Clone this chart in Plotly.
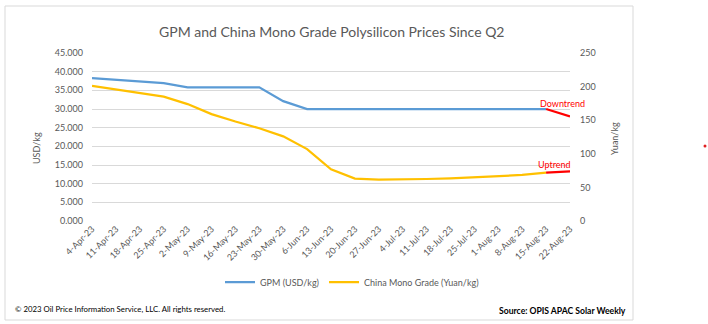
import plotly.graph_objects as go

# Weekly assessment dates
dates = ["4-Apr-23", "11-Apr-23", "18-Apr-23", "25-Apr-23", "2-May-23", "9-May-23",
         "16-May-23", "23-May-23", "30-May-23", "6-Jun-23", "13-Jun-23", "20-Jun-23",
         "27-Jun-23", "4-Jul-23", "11-Jul-23", "18-Jul-23", "25-Jul-23", "1-Aug-23",
         "8-Aug-23", "15-Aug-23", "22-Aug-23"]

# Global Polysilicon Marker, USD/kg
gpm_usd = [38.3, 37.8, 37.3, 36.9, 35.8, 35.8, 35.8, 35.8, 32.1, 30.0, 30.0, 30.0,
           30.0, 30.0, 30.0, 30.0, 30.0, 30.0, 30.0, 30.0, 28.0]

# China mono grade, Yuan/kg
china_mono_yuan = [201, 196, 190, 185, 174, 159, 148, 138, 126, 107, 77, 63,
                   61.5, 61.5, 62.5, 63.5, 65.5, 67, 68.5, 72, 74]

W, H = 708, 324
L, R, T, B = 92, 570, 53, 221   # plot area in pixels

def px(x):
    return (x - L) / (R - L)

def py(y):
    return (B - y) / (B - T)

FONT = "Lato"
GREY = "#595959"
BLUE = "#5B9BD5"
GOLD = "#FFC000"
RED = "#FF0000"

fig = go.Figure()

fig.add_trace(go.Scatter(x=dates[:-1], y=gpm_usd[:-1], mode="lines", name="GPM (USD/kg)",
                         line=dict(color=BLUE, width=2.25), yaxis="y"))
fig.add_trace(go.Scatter(x=dates[:-1], y=china_mono_yuan[:-1], mode="lines",
                         name="China Mono Grade (Yuan/kg)",
                         line=dict(color=GOLD, width=2.25), yaxis="y2"))
# latest week highlighted as trend segments
fig.add_trace(go.Scatter(x=dates[-2:], y=gpm_usd[-2:], mode="lines", showlegend=False,
                         line=dict(color=RED, width=2.25), yaxis="y"))
fig.add_trace(go.Scatter(x=dates[-2:], y=china_mono_yuan[-2:], mode="lines", showlegend=False,
                         line=dict(color=RED, width=2.25), yaxis="y2"))

fig.update_layout(
    width=W, height=H,
    margin=dict(l=L, r=W - R, t=T, b=H - B, pad=0),
    paper_bgcolor="white", plot_bgcolor="white",
    font=dict(family=FONT, size=9, color=GREY),
    showlegend=True,
    legend=dict(orientation="h", x=px(220), y=py(282), xanchor="left", yanchor="middle",
                font=dict(family=FONT, size=9, color=GREY), itemwidth=30,
                tracegroupgap=0, bgcolor="rgba(0,0,0,0)"),
    xaxis=dict(type="category", categoryorder="array", categoryarray=dates,
               range=[0, len(dates) - 1], tickangle=-45, showgrid=False,
               showline=False, zeroline=False, ticks="",
               tickfont=dict(family=FONT, size=9, color=GREY)),
    yaxis=dict(range=[0, 45], dtick=5, tickformat=".3f", showgrid=True,
               gridcolor="#D9D9D9", gridwidth=1, zeroline=False, showline=False,
               ticks="", ticklabelstandoff=8,
               tickfont=dict(family=FONT, size=9, color=GREY)),
    yaxis2=dict(range=[0, 250], dtick=50, overlaying="y", side="right", showgrid=False,
                zeroline=False, showline=False, ticks="", ticklabelstandoff=9,
                tickfont=dict(family=FONT, size=9, color=GREY)),
)

# chart frame
fig.add_shape(type="rect", xref="paper", yref="paper",
              x0=px(5), x1=px(633), y0=py(320), y1=py(6),
              line=dict(color="#D9D9D9", width=1), layer="below")
# stray marker to the right of the chart
fig.add_shape(type="circle", xref="paper", yref="paper",
              x0=px(703.5), x1=px(706.5), y0=py(147.5), y1=py(144.5),
              line=dict(color="#E02020", width=0), fillcolor="#E02020")

ann = [
    dict(text="GPM and China Mono Grade Polysilicon Prices Since Q2", x=px(331), y=py(31),
         font=dict(family=FONT, size=14, color=GREY)),
    dict(text="USD/kg", x=px(36), y=py(148), textangle=-90,
         font=dict(family=FONT, size=9, color=GREY)),
    dict(text="Yuan/kg", x=px(614), y=py(139), textangle=-90,
         font=dict(family=FONT, size=9, color=GREY)),
    dict(text="Downtrend", x=px(562), y=py(103), font=dict(family=FONT, size=9, color=RED)),
    dict(text="Uptrend", x=px(554), y=py(164), font=dict(family=FONT, size=9, color=RED)),
    dict(text="© 2023 Oil Price Information Service, LLC. All rights reserved.",
         x=px(13), y=py(309), xanchor="left", font=dict(family=FONT, size=7.8, color="#000000")),
    dict(text="<b>Source: OPIS APAC Solar Weekly</b>", x=px(628), y=py(311), xanchor="right",
         font=dict(family=FONT, size=8.6, color="#000000")),
]
for a in ann:
    a.setdefault("xanchor", "center")
    fig.add_annotation(xref="paper", yref="paper", yanchor="middle", showarrow=False, **a)

fig.write_html("out.html")
